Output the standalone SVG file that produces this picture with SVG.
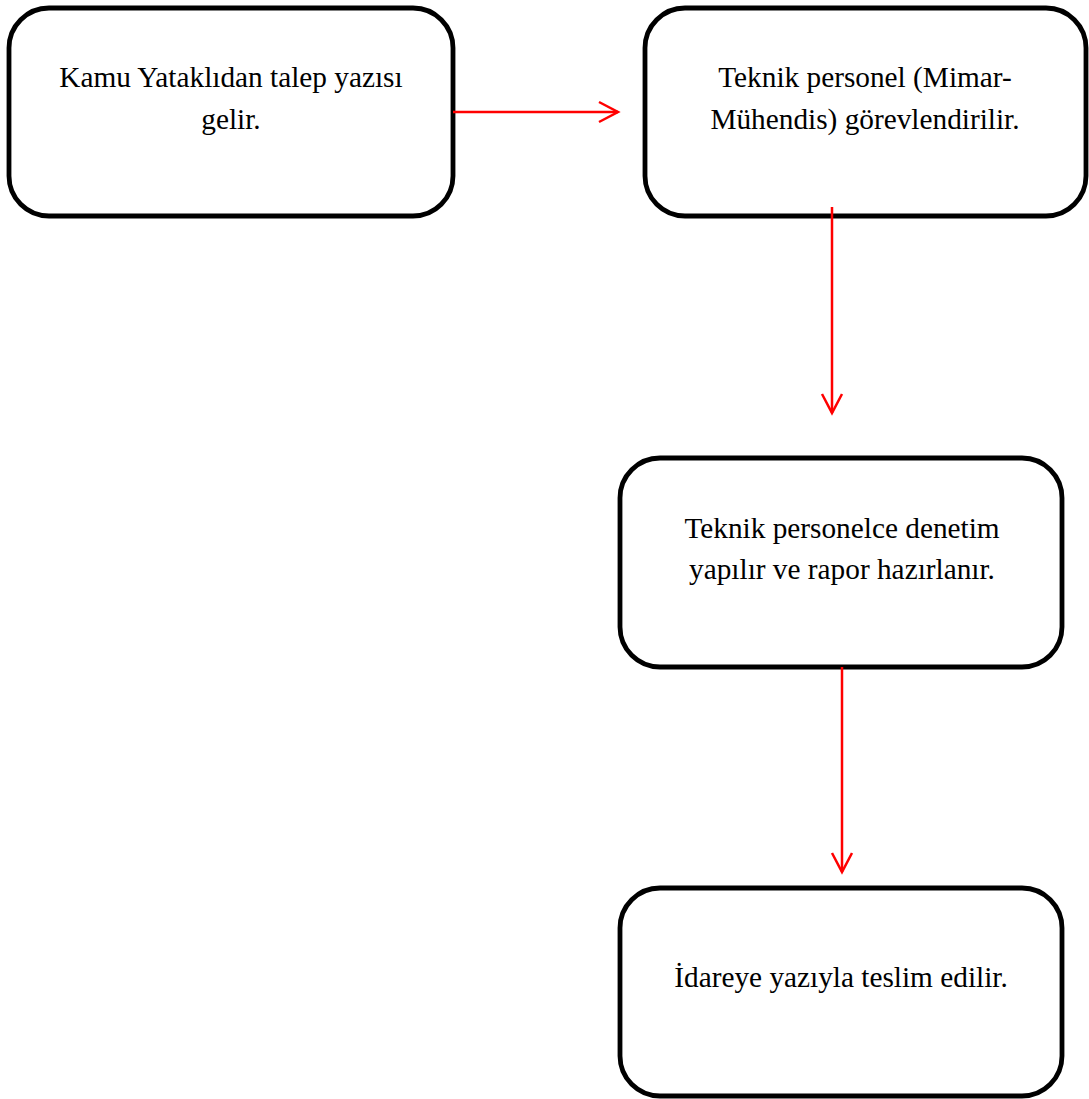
<svg xmlns="http://www.w3.org/2000/svg" width="1089" height="1099" viewBox="0 0 1089 1099">
  <style>
    .box { fill: #ffffff; stroke: #000000; stroke-width: 4.8; }
    .label { font-family: "Liberation Serif", "Times New Roman", serif; font-size: 29.3px; fill: #000000; text-anchor: middle; }
    .flow { stroke: #ff0000; stroke-width: 2.5; fill: none; }
  </style>
  <defs>
    <marker id="chevron" markerUnits="userSpaceOnUse" markerWidth="24" markerHeight="24" viewBox="-2 -2 24 24" refX="19" refY="10" orient="auto">
      <path d="M0,0 L19,10 L0,20" fill="none" stroke="#ff0000" stroke-width="2.5"/>
    </marker>
  </defs>

  <rect width="1089" height="1099" fill="#ffffff"/>

  <!-- process steps -->
  <g id="step-request">
    <rect class="box" x="9" y="8" width="444" height="208" rx="40" ry="40"/>
    <text class="label" x="231" y="87">Kamu Yataklıdan talep yazısı</text>
    <text class="label" x="231" y="129">gelir.</text>
  </g>

  <g id="step-assign">
    <rect class="box" x="645" y="8" width="441" height="208" rx="40" ry="40"/>
    <text class="label" x="865" y="87">Teknik personel (Mimar-</text>
    <text class="label" x="865" y="129">Mühendis) görevlendirilir.</text>
  </g>

  <g id="step-inspect">
    <rect class="box" x="620" y="458" width="442" height="209" rx="40" ry="40"/>
    <text class="label" x="842" y="538">Teknik personelce denetim</text>
    <text class="label" x="842" y="579">yapılır ve rapor hazırlanır.</text>
  </g>

  <g id="step-deliver">
    <rect class="box" x="620" y="888" width="442" height="208" rx="40" ry="40"/>
    <text class="label" x="841" y="987">İdareye yazıyla teslim edilir.</text>
  </g>

  <!-- connectors, drawn over the box borders -->
  <g id="connectors">
    <line class="flow" x1="453" y1="112" x2="618" y2="112" marker-end="url(#chevron)"/>
    <line class="flow" x1="832" y1="207" x2="832" y2="413" marker-end="url(#chevron)"/>
    <line class="flow" x1="842" y1="667" x2="842" y2="872" marker-end="url(#chevron)"/>
  </g>
</svg>
